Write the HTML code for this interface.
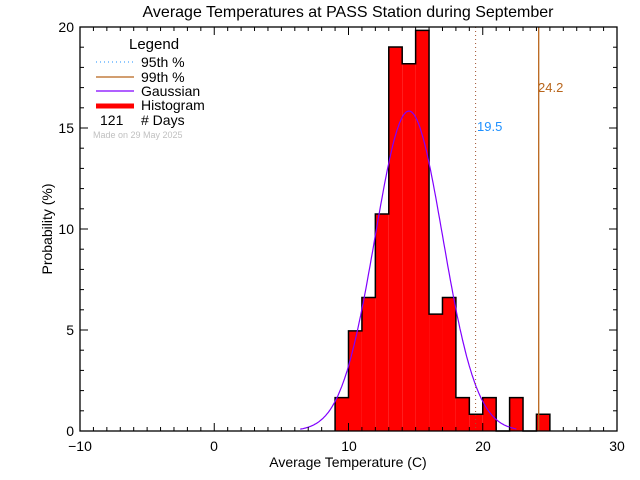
<!DOCTYPE html>
<html><head><style>body{margin:0;background:#fff}svg{display:block}text{font-family:"Liberation Sans",sans-serif}</style></head>
<body>
<svg id="s" width="640" height="480" viewBox="0 0 640 480" xmlns="http://www.w3.org/2000/svg">
<rect width="640" height="480" fill="#fff"/>
<text x="348" y="17" font-size="16" text-anchor="middle">Average Temperatures at PASS Station during September</text>
<g id="bars" fill="#f00" stroke="none"></g>
<polyline id="step" fill="none" stroke="#000" stroke-width="1.5"/>
<polyline id="gauss" fill="none" stroke="#8000ff" stroke-width="1.2"/>
<line x1="475.6" y1="27" x2="475.6" y2="431" stroke="#a0522d" stroke-dasharray="1,3" stroke-width="1"/>
<line x1="538.7" y1="27" x2="538.7" y2="431" stroke="#b8651b" stroke-width="1.3"/>
<text x="477" y="131" font-size="13" fill="#1e90ff">19.5</text>
<text x="538" y="92" font-size="13" fill="#b8651b">24.2</text>
<rect x="80" y="27" width="537" height="404" fill="none" stroke="#000" stroke-width="1.3"/>
<g id="ticks" stroke="#000" stroke-width="1"></g>
<g font-size="14" fill="#000">
<text x="80" y="451" text-anchor="middle">−10</text>
<text x="214" y="451" text-anchor="middle">0</text>
<text x="349" y="451" text-anchor="middle">10</text>
<text x="483" y="451" text-anchor="middle">20</text>
<text x="617" y="451" text-anchor="middle">30</text>
<text x="74" y="436" text-anchor="end">0</text>
<text x="74" y="335" text-anchor="end">5</text>
<text x="74" y="234" text-anchor="end">10</text>
<text x="74" y="133" text-anchor="end">15</text>
<text x="74" y="32" text-anchor="end">20</text>
<text x="348" y="467" text-anchor="middle">Average Temperature (C)</text>
<text transform="translate(52,229) rotate(-90)" text-anchor="middle">Probability  (%)</text>
<text x="129" y="49" font-size="15">Legend</text>
<text x="141" y="67">95th %</text>
<text x="141" y="82">99th %</text>
<text x="141" y="96">Gaussian</text>
<text x="141" y="110">Histogram</text>
<text x="100" y="125">121</text>
<text x="141" y="125"># Days</text>
</g>
<text x="93" y="138" font-size="9" fill="#c0c0c0">Made on 29 May 2025</text>
<line x1="96" y1="62" x2="134" y2="62" stroke="#1e90ff" stroke-dasharray="1,3"/>
<line x1="96" y1="77" x2="134" y2="77" stroke="#b8651b" stroke-width="1.3"/>
<line x1="96" y1="91" x2="134" y2="91" stroke="#8000ff" stroke-width="1.3"/>
<line x1="96" y1="106" x2="134" y2="106" stroke="#f00" stroke-width="5"/>
</svg>
<script>
var NS="http://www.w3.org/2000/svg";
function el(par,tag,a){var e=document.createElementNS(NS,tag);for(var k in a)e.setAttribute(k,a[k]);par.appendChild(e);}
var X=function(v){return 80+(v+10)*13.425}, Y=function(v){return 431-v*20.2};
var c=[2,6,8,13,23,22,24,7,8,2,1,2,0,2,0,1];
var b=document.getElementById('bars');
var sp=[X(9)+','+Y(0)];
for(var i=0;i<c.length;i++){var n=c[i];var v=n*100/121;
 sp.push(X(9+i)+','+Y(v));sp.push(X(10+i)+','+Y(v));
 if(!n)continue;el(b,'rect',{x:X(9+i),y:Y(v),width:13.425,height:20.2*v});}
sp.push(X(9+c.length)+','+Y(0));
document.getElementById('step').setAttribute('points',sp.join(' '));
var p=[];for(var t=6.4;t<=22.6;t+=0.1){p.push(X(t).toFixed(1)+','+Y(15.84*Math.exp(-Math.pow(t-14.5,2)/(2*2.52*2.52))).toFixed(1));}
document.getElementById('gauss').setAttribute('points',p.join(' '));
var g=document.getElementById('ticks');
for(var v=-10;v<=30;v++){var L=v%10==0?8:4,x=X(v);el(g,'line',{x1:x,y1:431,x2:x,y2:431-L});el(g,'line',{x1:x,y1:27,x2:x,y2:27+L});}
for(var v=0;v<=20;v++){var L=v%5==0?8:4,y=Y(v);el(g,'line',{x1:80,y1:y,x2:80+L,y2:y});el(g,'line',{x1:617,y1:y,x2:617-L,y2:y});}
</script>
</body></html>
